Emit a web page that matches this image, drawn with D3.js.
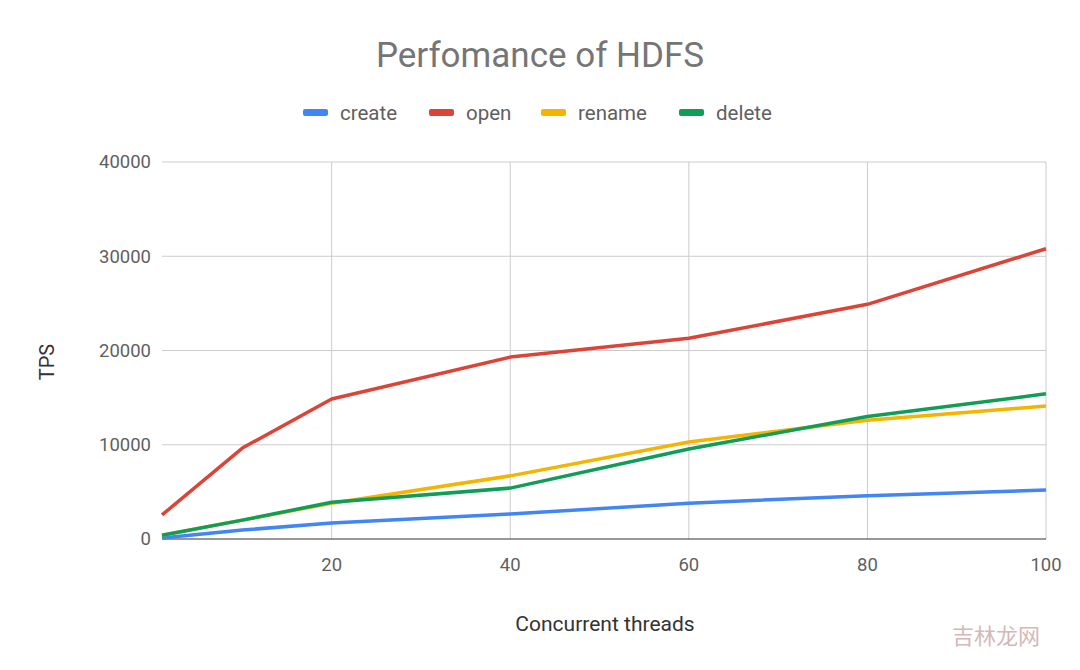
<!DOCTYPE html>
<html><head><meta charset="utf-8">
<script src="https://cdn.jsdelivr.net/npm/d3@7"></script>
<style>body{margin:0;background:#fff}svg{font-family:Roboto,Arial,sans-serif}</style>
</head><body><svg id="c" width="1080" height="670"></svg>
<script>
const threads = [1, 10, 20, 40, 60, 80, 100];
const createTPS = [100, 950, 1700, 2650, 3800, 4600, 5200];
const openTPS = [2550, 9650, 14850, 19300, 21300, 24900, 30800];
const renameTPS = [400, 2000, 3800, 6700, 10300, 12600, 14100];
const deleteTPS = [400, 2000, 3900, 5400, 9550, 13000, 15400];
const seriesNames = ["create", "open", "rename", "delete"];
const colors = ["#4285f4", "#db4437", "#f4b400", "#0f9d58"];
const xTicks = [20, 40, 60, 80, 100];
const yTicks = [0, 10000, 20000, 30000, 40000];
const seriesData = [createTPS, openTPS, renameTPS, deleteTPS];

const svg = d3.select("#c");
const x = d3.scaleLinear().domain([1, 100]).range([162, 1046]);
const y = d3.scaleLinear().domain([0, 40000]).range([539, 162]);

svg.append("g").selectAll("line").data(yTicks.slice(1)).join("line")
  .attr("x1", 162).attr("x2", 1046).attr("y1", d => y(d)).attr("y2", d => y(d))
  .attr("stroke", "#ccc");
svg.append("g").selectAll("line").data(xTicks).join("line")
  .attr("y1", 162).attr("y2", 539).attr("x1", d => x(d)).attr("x2", d => x(d))
  .attr("stroke", "#ccc");
svg.append("line").attr("x1", 162).attr("x2", 1046).attr("y1", 539).attr("y2", 539).attr("stroke", "#333");

svg.append("g").selectAll("text").data(yTicks).join("text")
  .attr("x", 151).attr("y", d => y(d)).attr("dy", "0.35em").attr("text-anchor", "end")
  .attr("font-size", 18.5).attr("fill", "#5f5f5f").text(d => d);
svg.append("g").selectAll("text").data(xTicks).join("text")
  .attr("x", d => x(d)).attr("y", 571).attr("text-anchor", "middle")
  .attr("font-size", 18.5).attr("fill", "#5f5f5f").text(d => d);

const line = d3.line().x((d, i) => x(threads[i])).y(d => y(d));
seriesData.forEach((s, k) => {
  svg.append("path").datum(s).attr("d", line).attr("fill", "none")
    .attr("stroke", colors[k]).attr("stroke-width", 3.5).attr("stroke-linejoin", "round");
});

svg.append("text").attr("x", 540).attr("y", 67).attr("text-anchor", "middle")
  .attr("font-size", 35).attr("fill", "#757575").text("Perfomance of HDFS");
svg.append("text").attr("x", 605).attr("y", 631).attr("text-anchor", "middle")
  .attr("font-size", 21).attr("fill", "#333").text("Concurrent threads");
svg.append("text").attr("transform", "translate(54,362) rotate(-90)").attr("text-anchor", "middle")
  .attr("font-size", 20).attr("fill", "#333").text("TPS");

const legX = [303, 429, 541, 679];
seriesNames.forEach((n, k) => {
  svg.append("rect").attr("x", legX[k]).attr("y", 109).attr("width", 25).attr("height", 7)
    .attr("rx", 2).attr("fill", colors[k]);
  svg.append("text").attr("x", legX[k] + 37).attr("y", 120).attr("font-size", 20.5)
    .attr("fill", "#5f5f5f").text(n);
});
svg.append("text").attr("x", 1040).attr("y", 644).attr("text-anchor", "end")
  .attr("font-family", "Noto Sans CJK SC").attr("font-size", 22).attr("fill", "#c9a8a8").attr("opacity", 0.8).text("吉林龙网");
</script></body></html>
